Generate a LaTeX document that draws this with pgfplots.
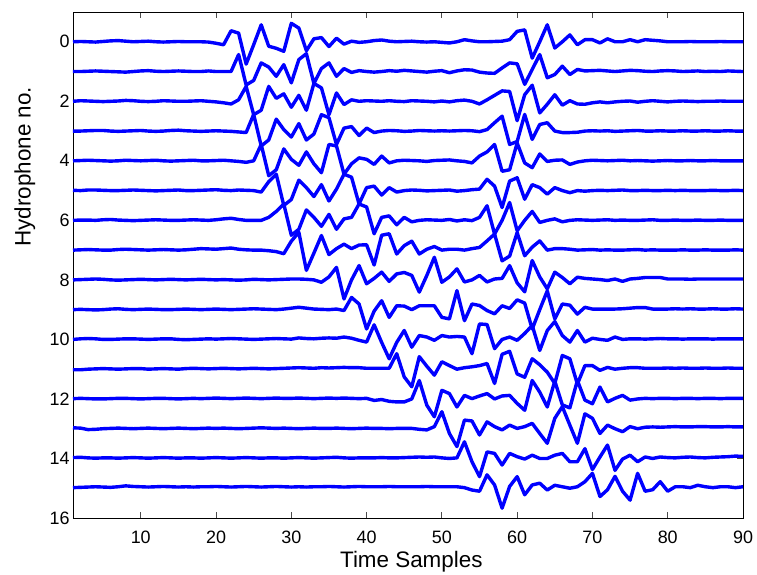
\documentclass[border=0pt]{standalone}
\usepackage{fontspec}
\setmainfont{Liberation Sans}
\usepackage{pgfplots}
\usepackage{pgfplotstable}
\pgfplotsset{compat=1.18}
\definecolor{mblue}{rgb}{0,0,1}
\pgfplotsset{trace/.style={mblue, line width=3.4bp, line join=round, mark=none}}

% one line per hydrophone (0..15), 90 time samples each; value = upward deflection
\pgfplotstableread[header=false]{
0 .01 0 -.01 .01 .03 .04 .02 0 .01 .02 0 -.01 0 .01 0 0 0 -.01 -.05 -.1 .37 .29 -.75 -.1 .57 -.15 -.22 -.32 .62 .46 -.3 .1 .14 -.16 .12 -.08 .02 -.02 0 .04 .06 .02 0 .01 .02 0 -.01 0 -.02 -.04 0 .07 .03 0 0 .01 .02 .07 .35 .4 -.55 0 .57 -.21 0 .23 -.1 .07 .07 -.04 .1 0 0 .07 0 .07 .05 .03 0 0 0 .01 0 0 0 .01 0 0 0
0 0 .01 .02 .01 0 -.01 -.02 0 .02 .03 .01 0 .01 .02 .01 0 0 .02 0 0 0 .57 -.45 -.3 .29 .15 -.16 .23 -.38 .4 .6 -.4 .1 .29 -.16 .1 -.03 .03 0 -.02 0 .03 .01 .04 .02 0 -.02 .01 .03 -.04 .02 .06 .05 -.02 -.05 -.06 .12 .29 .26 -.43 .07 .57 -.21 -.1 .18 -.1 .07 .02 .03 .04 .02 0 .02 .04 .03 .01 0 .02 .03 .02 0 .01 .02 0 .01 0 .02 .01 0
0 .02 .01 0 -.01 0 .01 .03 .02 0 -.01 0 .02 .01 0 0 .01 .02 0 -.02 -.05 -.09 .05 .5 -.45 -.3 .5 .1 .25 -.2 .2 -.3 .6 .45 -.45 .28 -.11 .05 0 .02 .01 0 .02 0 -.01 .02 .01 0 -.02 .01 -.02 .02 .04 0 -.09 .05 .2 .35 .33 -.65 .22 .54 -.39 -.1 .22 -.13 .02 -.09 -.1 -.05 -.02 -.05 -.02 0 .01 -.03 0 .02 0 -.02 0 .01 0 -.01 0 0 .01 0 0 0
0 0 .01 .02 .02 0 -.01 0 .01 .02 0 -.01 0 .02 .03 .01 0 -.01 0 .01 0 -.01 -.03 -.05 .56 -.5 -.3 .4 .05 -.2 .25 -.3 -.1 .55 .45 -.45 .1 .15 -.15 .1 -.05 0 .02 .01 -.01 0 .02 .01 0 .01 0 .01 .02 .01 -.02 .05 .28 .5 -.45 -.35 .56 -.28 .22 .28 0 -.05 -.05 -.04 0 .01 0 .01 -.01 0 .01 .02 0 0 .01 0 0 .01 0 0 .01 0 0 .01 0 0
0 .01 .02 .01 0 -.01 0 .02 .01 0 .01 .02 0 -.01 0 .01 .02 0 0 .01 .02 0 -.02 -.05 0 .55 -.5 -.3 .4 .05 -.15 .3 -.1 -.4 .55 .5 -.45 -.1 .1 .05 -.12 .16 -.07 0 .02 .01 0 -.02 .01 .02 .03 0 -.02 -.07 .16 .3 .55 -.35 -.3 .6 -.07 -.23 .23 -.02 .02 .03 -.12 -.04 0 .02 .01 0 .01 .02 0 .01 0 -.01 0 .01 0 0 .01 0 0 .01 0 0 0 0
.01 0 .02 .02 .01 0 0 .01 .02 .01 0 -.01 0 .01 .02 0 0 .01 .02 .03 .01 0 .02 .01 0 -.05 .3 .55 -.5 -.3 .35 .1 -.2 .2 -.35 .05 .55 .45 -.45 .1 .15 -.15 .1 -.05 0 .02 .01 -.01 0 .01 .02 -.02 0 .03 .05 .38 .15 -.57 .32 .43 -.29 .2 .1 -.12 .1 0 -.07 0 -.02 0 .01 0 .01 .02 0 0 .01 0 0 .01 0 .01 0 0 0 .01 0 0 .01 0
0 .01 .01 0 .02 .03 .01 0 -.01 0 .01 .02 .01 0 0 .01 .02 .01 0 .02 .05 .07 .03 0 0 0 .1 .3 .55 -.5 -.3 .35 .1 -.2 .2 -.3 .05 .1 .55 .45 -.45 .1 .15 -.15 .1 -.05 0 .02 .01 0 .03 -.02 .02 -.01 .1 .49 -.46 0 .6 -.35 0 .3 -.07 0 .05 -.05 0 .02 .01 0 .01 .02 0 .01 0 0 .01 .02 0 0 .01 0 0 .01 0 0 .01 0 0 0
0 .01 .02 .01 0 0 .02 .03 .02 .01 0 .01 .02 .01 0 .01 .03 .05 .04 .03 .05 .07 .03 .01 0 0 -.02 -.05 -.12 .3 .6 -.68 -.1 .49 -.15 .05 .2 .05 .17 .18 -.5 .5 .55 -.13 .15 .3 -.13 .03 .12 0 .03 .03 0 .05 .09 .31 .54 -.36 -.2 .59 -.19 .1 .31 0 .05 .05 .03 0 .01 .02 0 .01 0 0 .01 .02 0 .01 0 0 0 .01 0 0 .01 0 0 0 .01 0
0 .01 .02 .03 .02 0 -.01 0 .01 .02 .01 0 .01 .02 .01 0 .01 .02 .01 0 .01 0 -.01 0 .02 .01 0 .01 .02 .03 .03 .02 0 -.08 .1 .42 -.64 0 .48 -.13 .05 .26 -.05 .2 .25 .15 -.41 .15 .76 -.08 .1 .37 -.07 0 .15 -.07 .03 .05 .48 -.1 -.4 .65 .1 -.3 .26 .08 -.13 .09 .05 .03 .01 -.02 .03 -.05 .03 .05 .08 .08 .08 .03 .03 .03 .02 .03 .03 .03 .03 .03 .03 .03
0 .01 0 -.01 0 .02 .03 .01 0 .01 .02 .01 0 0 .01 .02 .01 0 .01 .02 .01 0 .01 .02 .03 .02 .01 0 .02 .05 .08 .05 .02 .01 0 .02 -.03 .41 .19 -.65 -.05 .3 -.26 .13 .12 0 .13 .13 .13 -.26 -.31 .64 -.37 .19 .14 -.03 -.14 .13 .04 .33 .22 -.65 0 .63 -.31 .19 .15 -.15 .08 .02 .02 .02 .02 .03 .05 .07 .07 .02 .02 .02 .03 .02 .03 .02 .02 .03 .02 .02 .03 .02
0 .02 .03 .02 0 0 .01 .02 .02 .01 0 .01 .02 .02 0 -.01 0 .01 .02 .01 .02 .03 .02 .01 0 .01 .02 .03 .02 .01 .05 .03 .02 .04 .05 .04 .08 .04 -.03 -.09 .49 -.1 -.65 -.1 .3 -.26 .13 .08 -.03 .13 .08 .1 .08 -.48 .52 .5 -.31 0 .08 -.03 .2 .47 -.37 .3 .6 .13 -.09 .3 -.09 .04 0 -.03 .08 0 .02 .02 .01 .02 .03 .02 .02 .01 .02 .02 .02 .01 .02 .02 .02 .02
-.02 -.02 0 .01 .02 .01 0 .01 .02 .02 0 .01 .02 .01 0 .02 .03 .02 .01 .02 .03 .02 .01 .02 .03 .02 .01 .02 .03 .04 .05 .04 .03 .05 .04 .05 .06 .05 .05 .03 .03 .03 .03 .52 -.26 -.59 .42 .1 -.2 .25 .12 0 .05 .08 .12 .19 -.48 .5 .6 -.16 -.27 .35 .15 -.1 -.48 .46 .35 -.5 .12 .12 -.04 .06 0 .03 .05 .05 .03 .03 .03 .04 .03 .04 .03 .03 .04 .03 .03 .04 .03 .03
.01 .02 .01 0 0 .01 .02 .02 .01 0 .01 .02 .02 .01 0 .01 .02 .01 .02 .03 .02 .01 .02 .03 .02 .01 .02 .03 .02 .02 .03 .02 .01 .02 .03 .02 .03 .02 .01 .02 -.05 -.02 -.08 -.1 -.1 0 .62 -.21 -.6 .29 .18 -.27 .12 .01 .1 .18 0 .1 .12 -.15 -.38 .62 .23 -.27 .6 -.2 -.3 .62 -.04 -.16 .4 -.1 .02 .12 -.04 0 .02 .01 .02 .02 .01 .02 .02 .01 .02 .02 .01 .02 .02 .02
.03 .02 -.03 -.02 0 .01 .02 .01 0 .01 .02 .01 0 .01 .02 .01 0 .01 .02 .01 .02 .01 0 .01 .02 .03 .02 .01 .02 .01 0 .01 .02 .01 .01 .02 .01 0 .01 .02 .01 .01 0 .01 .01 .01 -.02 -.04 .07 .57 -.16 -.6 .29 .26 -.21 .23 .07 -.04 .12 .01 .07 .18 -.16 -.49 .35 .74 .12 -.49 .5 .35 -.16 .12 0 -.1 .07 0 .05 .06 .05 .06 .07 .06 .06 .07 .07 .06 .06 .07 .06 .06
.03 .04 .02 .01 .02 .02 .01 .02 .03 .02 .01 .02 .03 .02 .01 .02 .02 .01 .02 .03 .02 .01 .02 .03 .02 .01 .02 .02 .01 .02 .03 .02 .01 .02 .03 .04 .02 .01 .02 .02 .02 .03 .02 .02 .03 .04 .05 .04 .05 .02 0 .02 .56 -.11 -.61 .22 .17 -.22 .17 .06 -.02 .11 0 0 .11 .17 -.11 -.11 .33 -.37 .05 .45 -.4 -.02 .11 -.11 .05 0 .05 .03 .02 .04 .05 .03 .02 .04 .05 .06 .08 .07
.02 .03 .04 .05 .04 .03 .05 .08 .06 .05 .04 .05 .06 .05 .04 .05 .04 .05 .05 .06 .05 .04 .05 .06 .05 .04 .05 .06 .05 .04 .05 .04 .05 .05 .06 .05 .04 .05 .06 .05 .05 .05 .06 .05 .05 .05 .05 .06 .05 .05 .05 .05 .02 -.06 -.1 .45 .11 -.67 .06 .39 -.22 .11 .17 -.06 .1 .05 0 .05 .22 .5 -.28 -.05 .4 -.1 -.4 .5 -.1 -.05 .22 -.1 .05 .05 .02 .1 .05 .02 .05 .05 .02 .05
}\raw
\pgfplotstabletranspose{\data}{\raw}

\begin{document}
\begin{tikzpicture}
\begin{axis}[
  scale only axis, width=670bp, height=506bp,
  xmin=1, xmax=90, ymin=-1, ymax=16, y dir=reverse,
  xtick={10,20,...,90}, ytick={0,2,...,16},
  tick align=inside, major tick length=6bp,
  axis line style={black, line width=0.8bp},
  every tick/.style={black!70, line width=0.8bp},
  /pgf/number format/assume math mode=true,
  tick label style={font=\fontsize{18}{20}\selectfont},
  label style={font=\fontsize{22.5}{26}\selectfont},
  xlabel={Time Samples}, ylabel={Hydrophone no.},
  ylabel style={at={(axis description cs:-0.072,0.694)}, anchor=center},
  xlabel style={at={(axis description cs:0.505,0)}, anchor=base, yshift=-49bp},
  xticklabel style={anchor=base, yshift=-25bp},
]
\addplot[trace] table[x expr=\coordindex+1, y expr={0-\thisrowno{1}}]{\data};
\addplot[trace] table[x expr=\coordindex+1, y expr={1-\thisrowno{2}}]{\data};
\addplot[trace] table[x expr=\coordindex+1, y expr={2-\thisrowno{3}}]{\data};
\addplot[trace] table[x expr=\coordindex+1, y expr={3-\thisrowno{4}}]{\data};
\addplot[trace] table[x expr=\coordindex+1, y expr={4-\thisrowno{5}}]{\data};
\addplot[trace] table[x expr=\coordindex+1, y expr={5-\thisrowno{6}}]{\data};
\addplot[trace] table[x expr=\coordindex+1, y expr={6-\thisrowno{7}}]{\data};
\addplot[trace] table[x expr=\coordindex+1, y expr={7-\thisrowno{8}}]{\data};
\addplot[trace] table[x expr=\coordindex+1, y expr={8-\thisrowno{9}}]{\data};
\addplot[trace] table[x expr=\coordindex+1, y expr={9-\thisrowno{10}}]{\data};
\addplot[trace] table[x expr=\coordindex+1, y expr={10-\thisrowno{11}}]{\data};
\addplot[trace] table[x expr=\coordindex+1, y expr={11-\thisrowno{12}}]{\data};
\addplot[trace] table[x expr=\coordindex+1, y expr={12-\thisrowno{13}}]{\data};
\addplot[trace] table[x expr=\coordindex+1, y expr={13-\thisrowno{14}}]{\data};
\addplot[trace] table[x expr=\coordindex+1, y expr={14-\thisrowno{15}}]{\data};
\addplot[trace] table[x expr=\coordindex+1, y expr={15-\thisrowno{16}}]{\data};
\coordinate (bl) at (axis description cs:0,0);
\coordinate (tr) at (axis description cs:1,1);
\end{axis}
\path ([shift={(-73bp,-57bp)}]bl) rectangle ([shift={(14bp,12bp)}]tr);
\end{tikzpicture}
\end{document}
